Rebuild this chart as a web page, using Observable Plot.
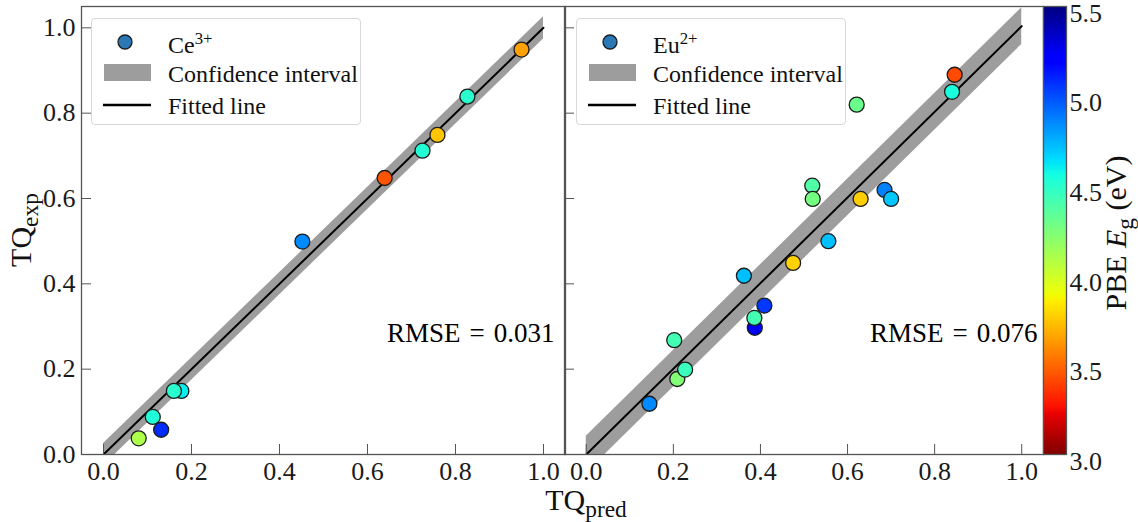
<!DOCTYPE html>
<html>
<head>
<meta charset="utf-8">
<script src="https://cdn.jsdelivr.net/npm/d3@7"></script>
<script src="https://cdn.jsdelivr.net/npm/@observablehq/plot@0.6"></script>
<style>
  html, body { margin: 0; padding: 0; background: #fff; }
  #fig { position: relative; width: 1138px; height: 522px; font-family: "Liberation Serif", "DejaVu Serif", serif; color: #111; overflow: hidden; }
  #fig > div.panel { position: absolute; top: 0; }
  .legend { position: absolute; width: 270px; height: 107px; border: 1px solid #d8d8d8; border-radius: 4px; background: rgba(255,255,255,0.85); box-sizing: border-box; }
  .legend .txt { position: absolute; left: 76px; font-size: 24px; line-height: 1; transform: translateY(-50%); white-space: nowrap; }
  .legend svg { position: absolute; left: 0; top: 0; }
  .lab { position: absolute; white-space: nowrap; line-height: 1; font-size: 30px; }
  sub.s { font-size: 0.78em; vertical-align: -0.3em; }
  sup.s { font-size: 0.7em; vertical-align: 0.5em; }
</style>
</head>
<body>
<div id="fig"></div>
<script>
// ---------- data ----------
const ceSeriesName = "Ce";
const ceCharge = "3+";
const cePred = [0.950, 0.827, 0.759, 0.725, 0.639, 0.452, 0.177, 0.160, 0.112, 0.131, 0.080];
const ceExp  = [0.949, 0.839, 0.749, 0.712, 0.648, 0.499, 0.149, 0.149, 0.088, 0.058, 0.038];
const ceEg   = [3.65,  4.50,  3.75,  4.52,  3.45,  4.85,  4.60,  4.50,  4.53,  5.08,  4.10];

const euSeriesName = "Eu";
const euCharge = "2+";
const euPred = [0.846, 0.840, 0.621, 0.519, 0.520, 0.685, 0.700, 0.630, 0.556, 0.475, 0.362, 0.409, 0.387, 0.386, 0.202, 0.209, 0.227, 0.145];
const euExp  = [0.890, 0.850, 0.820, 0.630, 0.599, 0.620, 0.599, 0.599, 0.500, 0.449, 0.419, 0.349, 0.297, 0.320, 0.268, 0.177, 0.199, 0.119];
const euEg   = [3.42,  4.55,  4.30,  4.38,  4.27,  4.87,  4.70,  3.77,  4.72,  3.78,  4.72,  5.05,  5.25,  4.42,  4.42,  4.23,  4.45,  4.85];

// fitted lines and confidence bands (endpoints)
const fitX = [0, 1];
const ceFitY = [0.0, 1.0];
const ceBandLo = [-0.026, 0.974];
const ceBandHi = [0.026, 1.026];
const euFitY = [0.0, 1.004];
const euBandLo = [-0.043, 0.961];
const euBandHi = [0.043, 1.047];

const ceRmse = "RMSE\u2004=\u20040.031";
const euRmse = "RMSE\u2004=\u20040.076";

const xTicks = [0, 0.2, 0.4, 0.6, 0.8, 1.0];
const yTicks = [0, 0.2, 0.4, 0.6, 0.8, 1.0];
const cbTicks = [3.0, 3.5, 4.0, 4.5, 5.0, 5.5];
const xDomain = [-0.05, 1.05];
const yDomain = [0, 1.05];
const egDomain = [3.0, 5.5];

// ---------- colormap (matplotlib jet, reversed) ----------
function seg(pts, t) {
  for (let i = 1; i < pts.length; i++) {
    if (t <= pts[i][0]) {
      const [x0, v0] = pts[i - 1], [x1, v1] = pts[i];
      return v0 + (v1 - v0) * (t - x0) / (x1 - x0);
    }
  }
  return pts[pts.length - 1][1];
}
const jetR = (t) => {
  const u = 1 - Math.max(0, Math.min(1, t));
  const r = seg([[0, 0], [0.35, 0], [0.66, 1], [0.89, 1], [1, 0.5]], u);
  const g = seg([[0, 0], [0.125, 0], [0.375, 1], [0.64, 1], [0.91, 0], [1, 0]], u);
  const b = seg([[0, 0.5], [0.11, 1], [0.34, 1], [0.65, 0], [1, 0]], u);
  return `rgb(${Math.round(r * 255)},${Math.round(g * 255)},${Math.round(b * 255)})`;
};
const colorOpts = {type: "linear", domain: egDomain, interpolate: jetR};

const ce = cePred.map((p, i) => ({pred: p, exp: ceExp[i], eg: ceEg[i]}));
const eu = euPred.map((p, i) => ({pred: p, exp: euExp[i], eg: euEg[i]}));
const ceFit = fitX.map((x, i) => ({x, y: ceFitY[i], lo: ceBandLo[i], hi: ceBandHi[i]}));
const euFit = fitX.map((x, i) => ({x, y: euFitY[i], lo: euBandLo[i], hi: euBandHi[i]}));

const FONT = "'Liberation Serif', 'DejaVu Serif', serif";
const frameColor = "#555";
const textColor = "#1a1a1a";

function panel({data, fit, rmse, width, marginLeft, showYLabels, rmseDx}) {
  return Plot.plot({
    width, height: 522,
    marginLeft, marginRight: 0, marginTop: 6, marginBottom: 68,
    x: {domain: xDomain, label: null},
    y: {domain: yDomain, label: null},
    color: colorOpts,
    style: {fontFamily: FONT, fontSize: "26px", color: textColor, background: "transparent", overflow: "visible"},
    marks: [
      Plot.areaY(fit, {x: "x", y1: "lo", y2: "hi", fill: "#9d9d9d", clip: true}),
      Plot.line(fit, {x: "x", y: "y", stroke: "#000", strokeWidth: 2, clip: true}),
      Plot.dot(data, {x: "pred", y: "exp", fill: "eg", r: 7.5, stroke: "#1c1c1c", strokeWidth: 1.3}),
      Plot.axisX({ticks: xTicks, tickFormat: d3.format(".1f"), tickSize: -10, tickPadding: 17, stroke: frameColor, fill: textColor, label: null}),
      Plot.axisY({ticks: yTicks, tickFormat: showYLabels ? d3.format(".1f") : () => "", tickSize: -10, tickPadding: 16, stroke: frameColor, fill: textColor, label: null}),
      Plot.text([rmse], {text: d => d, frameAnchor: "bottom-right", textAnchor: "end", dx: rmseDx, dy: -113, fontSize: 27, fill: "#000"}),
      Plot.frame({stroke: frameColor, strokeWidth: 1.3})
    ]
  });
}

const fig = document.getElementById("fig");

function place(el, left) {
  const d = document.createElement("div");
  d.className = "panel";
  d.style.left = left + "px";
  d.appendChild(el);
  fig.appendChild(d);
}

place(panel({data: ce, fit: ceFit, rmse: ceRmse, width: 565, marginLeft: 81, showYLabels: true, rmseDx: -11}), 0);
place(panel({data: eu, fit: euFit, rmse: euRmse, width: 479, marginLeft: 0, showYLabels: false, rmseDx: -6}), 564);

// colorbar
const cb = Plot.plot({
  width: 95, height: 522,
  marginLeft: 0, marginRight: 72, marginTop: 6, marginBottom: 68,
  x: {domain: [0, 1], axis: null},
  y: {domain: egDomain, label: null},
  color: colorOpts,
  style: {fontFamily: FONT, fontSize: "26px", color: textColor, background: "transparent", overflow: "visible"},
  marks: [
    Plot.raster({x1: 0, x2: 1, y1: egDomain[0], y2: egDomain[1], width: 1, height: 448, fill: (x, y) => y}),
    Plot.axisY({anchor: "right", ticks: cbTicks, tickFormat: d3.format(".1f"), tickSize: 0, tickPadding: 3, dy: 7, fill: textColor, label: null}),
    Plot.frame({stroke: frameColor, strokeWidth: 1.3})
  ]
});
place(cb, 1043);

// legends
function legend(left, name, charge) {
  const box = document.createElement("div");
  box.className = "legend";
  box.style.left = left + "px";
  box.style.top = "18px";
  box.innerHTML = `
    <svg width="270" height="107">
      <circle cx="33" cy="23" r="7" fill="#2a78b6" stroke="#1c1c1c" stroke-width="1.3"></circle>
      <rect x="12" y="45" width="47" height="17" fill="#9d9d9d"></rect>
      <line x1="11" x2="59" y1="86" y2="86" stroke="#000" stroke-width="2.6"></line>
    </svg>
    <div class="txt" style="top:25px">${name}<sup class="s">${charge}</sup></div>
    <div class="txt" style="top:55px">Confidence interval</div>
    <div class="txt" style="top:87px">Fitted line</div>`;
  fig.appendChild(box);
}
legend(91, ceSeriesName, ceCharge);
legend(576, euSeriesName, euCharge);

// axis labels
function label(html, left, top, rotate, size) {
  const d = document.createElement("div");
  d.className = "lab";
  d.innerHTML = html;
  d.style.left = left + "px";
  d.style.top = top + "px";
  if (size) d.style.fontSize = size + "px";
  d.style.transform = `translate(-50%,-50%)${rotate ? " rotate(-90deg)" : ""}`;
  fig.appendChild(d);
}
label(`TQ<sub class="s">pred</sub>`, 586, 503, false);
label(`TQ<sub class="s">exp</sub>`, 24, 230, true);
label(`PBE <i>E</i><sub class="s">g</sub> (eV)`, 1119, 233, true, 30);
</script>
</body>
</html>
